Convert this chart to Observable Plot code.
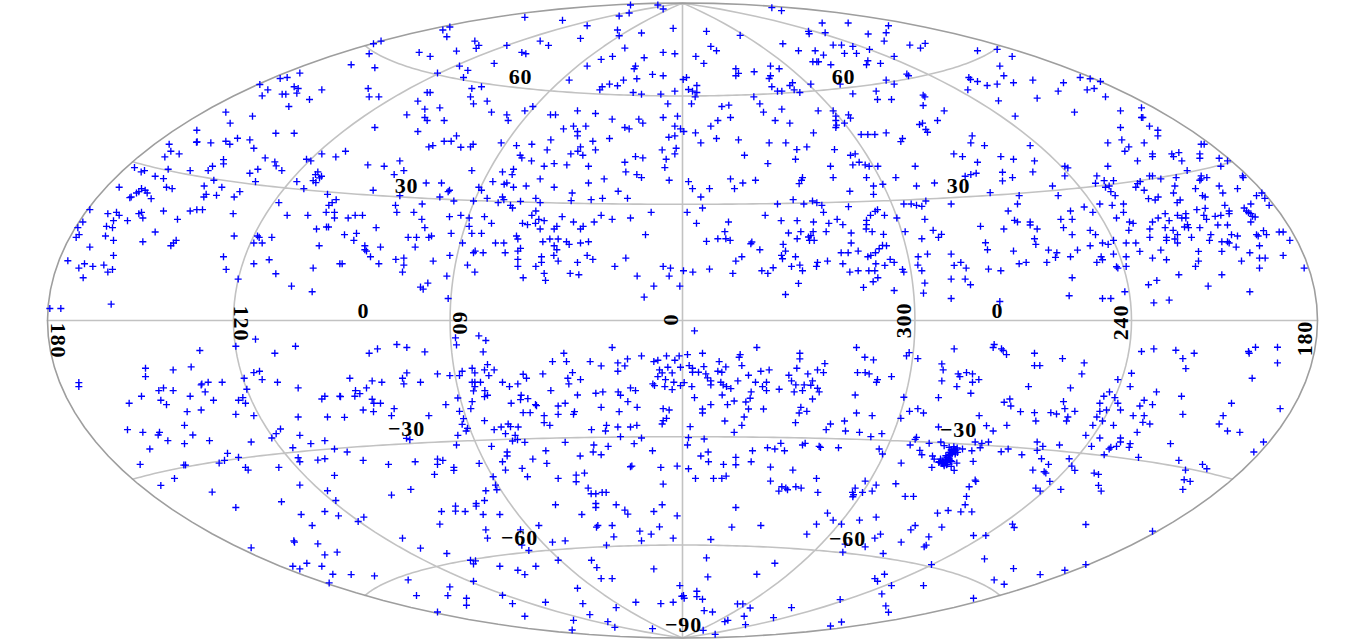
<!DOCTYPE html>
<html>
<head>
<meta charset="utf-8">
<style>html,body{margin:0;padding:0;background:#fff}svg{display:block}</style>
<script src="https://cdn.jsdelivr.net/npm/d3@7"></script>
<script src="https://cdn.jsdelivr.net/npm/@observablehq/plot@0.6"></script>
</head>
<body>
<div id="chart"></div>
<script>
// Sky positions, as x,y pairs in map-plane units per sector.
// Half-width of the map = 1905 units, half-height = 951 units.
const northFarLeft = [898,219,860,232,839,235,778,253,802,269,881,260,893,265,889,279,964,269,785,287,845,282,856,282,927,298,865,319,676,336,756,348,689,369,589,390,826,399,881,399,506,432,590,425,588,426,631,428,676,423,688,432,711,414,748,419,760,444,511,453,536,461,493,470,964,461,1006,470,794,473,669,478,669,491,918,477,931,482,823,485,827,497,636,498,402,502,503,507,569,511,623,511,432,511,422,515,844,511,772,507,748,519,464,528,489,535,640,540,765,544,889,544,952,515,945,523,963,528,957,533,938,541,946,547,611,557,664,561,498,561,515,565,356,561,423,565,415,574,434,570,910,565,440,578,718,574,408,578,981,582,617,582,648,585,610,590,701,590,392,590,388,592,452,595,1007,598,995,607,985,615,835,607,268,628,489,632,569,632,589,628,606,628,322,640,348,636,356,645,415,640,423,636,698,640,860,645,922,645,977,636,1002,636,1002,653,427,653,531,657,247,665,339,661,381,661,318,678,336,682,232,682,948,686,978,680,984,680,464,695,236,703,227,711,315,707,701,707,771,707,776,711,814,711,339,720,427,724,527,720,519,728,511,736,760,728,785,728,268,740,956,736,339,765,669,769,202,781,806,778,252,790,235,803,277,798,310,794,336,807,322,815,677,807,760,790,938,803,1018,790,826,820,248,832,713,836,873,857,935,874,148,924,181,924,332,911];
const northNearLeft = [870,15,952,15,968,27,866,39,836,48,553,52,666,61,740,77,328,81,307,90,319,110,998,85,831,90,836,107,903,99,720,115,115,123,99,131,403,123,599,123,624,136,499,136,415,136,407,145,853,144,236,157,269,169,348,153,544,157,556,161,86,161,968,157,1003,161,816,169,782,178,911,173,461,190,32,194,103,203,885,198,740,198,357,198,382,211,291,219,369,232,881,206,936,223,968,227,889,236,686,240,849,240,807,252,831,257,785,260,778,269,394,265,423,260,83,265,260,277,269,277,878,277,903,282,961,282,1003,273,86,290,115,290,390,290,232,303,440,303,399,311,982,311,253,327,298,323,553,332,577,319,453,336,199,344,499,344,630,344,645,344,711,332,765,340,253,352,260,361,311,361,503,361,815,357,968,352,1011,348,895,357,907,369,669,386,699,378,736,378,853,382,866,386,1003,378,1020,386,103,382,232,394,711,394,711,407,1003,407,985,411,807,415,348,407,311,423,332,423,482,428,631,419,757,423,574,432,528,436,398,432,390,440,265,440,277,436,361,441,15,453,620,449,765,449,965,449,1007,444,720,440,712,453,691,461,727,465,1003,461,539,465,544,473,573,482,178,482,82,494,131,498,611,498,641,490,679,494,744,498,853,486,885,469,907,473,977,477,973,502,394,511,190,511,161,523,486,515,519,507,515,523,856,515,889,523,903,532,986,540,599,536,791,536,457,544,257,548,303,548,499,548,491,552,519,561,557,557,744,548,641,561,415,561,98,570,423,570,327,570,323,574,833,573,695,578,178,586,298,590,486,590,440,594,586,594,692,601,752,598,786,594,861,594,340,602,399,602,473,607,490,598,599,607,540,603,245,611,510,615,165,615,516,623,932,636,586,632,574,645,169,636,220,636,23,653,44,645,66,645,327,649,361,645,386,653,432,649,665,649,782,645,815,657,870,653,244,657,453,669,595,657,611,661,585,669,546,669,561,673,699,665,761,665,253,682,107,682,386,678,649,678,641,686,728,678,720,686,599,686,48,699,12,703,332,699,394,699,423,699,915,703,203,711,228,711,265,711,273,707,528,707,532,716,40,720,607,724,628,716,653,716,465,728,490,728,366,728,678,724,720,728,744,724,686,732,641,736,73,736,120,740,224,740,73,748,78,752,649,748,540,744,532,752,404,752,399,757,428,757,494,757,90,769,640,765,740,765,757,777,856,773,603,769,166,777,190,773,278,782,328,765,532,777,653,782,603,786,711,786,115,790,190,794,5,790,381,794,532,798,586,798,823,798,968,798,990,803,186,815,403,815,611,819,689,819,715,823,986,827,319,827,548,832,890,827,615,840,262,848,240,860,248,866,940,857,1018,857,911,890,323,894];
const northNearRight = [268,23,297,32,419,69,497,69,618,77,72,94,173,106,378,94,380,101,428,98,557,102,611,98,605,123,301,131,682,135,728,130,714,144,85,139,102,152,348,152,398,152,452,135,477,135,511,139,561,148,486,160,522,160,423,165,885,152,944,148,40,169,64,190,391,185,403,185,408,185,445,194,635,169,556,182,552,194,594,190,989,169,952,198,160,206,264,198,290,206,215,215,160,227,168,220,264,227,260,235,12,232,2,238,964,227,859,232,864,238,885,244,993,248,330,248,385,252,322,256,611,240,635,252,673,222,678,227,914,256,944,252,43,256,18,268,30,273,43,277,268,260,285,273,298,273,335,269,352,277,473,252,856,269,581,273,511,281,214,290,38,290,722,285,727,290,585,298,627,298,948,302,27,311,232,311,722,316,118,319,139,315,243,336,298,327,407,332,785,332,452,332,460,348,498,344,504,354,998,348,144,352,106,361,278,361,460,361,765,361,85,378,322,369,486,369,462,375,460,382,720,369,711,373,730,388,735,396,4,394,39,398,393,398,536,403,556,403,577,403,611,398,55,428,102,415,168,419,260,428,310,428,660,415,655,424,869,407,865,428,906,436,343,448,373,440,456,448,186,465,504,465,518,461,256,490,339,477,530,486,814,461,840,469,955,469,993,477,885,486,444,498,511,494,548,494,560,498,586,498,698,498,960,516,452,532,552,532,640,532,360,532,357,540,848,528,865,523,881,519,960,542,990,532,18,544,144,536,219,540,181,548,350,550,573,557,601,552,702,557,756,548,30,565,81,565,156,565,502,573,573,582,55,590,923,577,332,598,285,611,364,611,390,602,403,607,418,615,498,619,664,611,686,611,702,615,718,618,730,602,806,611,1010,586,1005,611,60,623,14,636,423,636,585,628,578,633,977,632,248,645,564,645,606,645,643,653,727,657,296,661,344,661,393,665,439,669,464,657,481,673,552,660,138,665,42,669,552,673,996,660,1005,665,894,678,964,686,551,686,127,694,318,698,355,694,392,694,431,694,506,698,569,694,603,702,668,694,752,690,777,702,768,711,106,715,130,715,143,720,72,723,344,715,378,710,385,706,381,720,395,720,718,715,208,725,205,730,506,728,909,727,302,732,309,752,915,748,993,752,232,748,600,735,612,736,590,745,527,752,476,757,497,757,579,757,735,761,806,761,297,765,300,775,160,782,178,769,339,769,556,769,565,765,435,782,405,786,707,769,623,777,1010,790,835,786,815,795,481,790,352,794,327,798,402,798,580,790,607,795,635,786,706,794,851,803,3,811,31,815,81,806,238,811,272,802,256,819,151,819,360,811,502,815,527,811,559,811,577,811,660,807,664,815,718,811,918,806,955,811,586,832,572,844,727,848,806,836,848,836,864,853,348,849,543,861,635,870,723,878,309,882,806,894,952,903];
const northFarRight = [31,240,123,248,173,232,203,236,240,244,107,273,194,269,215,265,249,290,44,294,156,336,294,332,357,323,357,352,361,352,294,382,381,378,406,390,406,407,298,419,256,428,365,428,536,432,545,432,23,436,319,440,307,453,390,461,390,469,448,461,469,457,453,469,532,461,532,474,590,474,36,482,345,482,478,482,615,482,127,498,136,503,256,498,595,498,31,515,494,511,127,527,223,527,381,527,390,527,415,536,461,532,536,527,553,532,536,536,532,540,660,527,662,532,245,541,273,541,219,549,90,557,353,544,345,550,340,561,457,557,590,557,249,561,260,557,519,565,645,565,365,570,453,578,265,574,601,578,107,586,278,586,378,595,398,599,407,590,540,586,548,590,473,599,464,607,232,611,269,615,303,611,607,615,685,611,702,586,718,578,727,594,740,615,185,620,523,628,548,624,665,623,144,632,211,636,303,636,620,632,620,640,428,640,672,632,678,637,490,640,465,645,478,653,490,653,544,645,595,645,578,648,685,640,690,648,698,650,282,653,407,653,115,657,149,657,23,665,23,674,321,665,332,669,440,661,390,665,552,657,685,665,495,673,486,680,498,682,586,674,615,674,532,682,44,686,123,682,382,686,428,682,452,690,203,690,319,690,770,695,782,695,723,691,149,703,219,703,465,703,565,703,627,703,645,707,702,703,707,707,732,703,36,715,382,711,432,711,432,720,457,716,507,711,561,720,273,720,802,720,40,732,240,728,257,732,311,728,340,728,465,728,598,724,615,724,620,728,203,736,711,736,641,740,78,749,165,749,103,757,99,771,352,753,415,749,528,753,598,753,682,757,144,769,273,761,236,769,240,778,311,769,390,773,432,778,528,782,711,773,728,773,782,765,11,786,73,786,223,786,657,782,282,799,286,803,311,798,519,798,711,803,845,803,149,832,469,823,598,823,403,840,378,853,557,857,140,886,307,874,682,874,240,894,265,894,394,907,440,899];
const southFarLeft = [765,56,706,77,885,77,598,90,823,98,572,139,435,143,518,148,760,156,777,152,435,168,731,173,785,177,235,186,235,198,623,185,665,185,831,185,602,193,604,190,489,202,475,210,518,210,614,214,739,206,893,202,423,227,569,227,727,231,973,227,964,235,1018,227,481,239,639,239,714,239,386,248,498,252,735,248,560,273,602,268,706,281,760,285,893,289,981,289,552,314,381,327,427,335,477,335,473,343,840,325,827,339,577,343,898,344,814,352,502,360,627,360,752,364,552,369,973,360,931,369,448,385,877,381,1002,385,681,398,714,410,893,411,898,423,952,418,973,414,672,419,656,427,419,431,550,433,555,433,735,440,743,448,835,440,522,473,481,494,898,493,1002,464,981,510,635,514,1006,539,843,543,706,560,902,581,973,572,1014,585,935,614,880,660,882,664,952,669,752,681,973,702,1010,694,877,736,898,744,919,727,964,736,997,760,986,786];
const southNearLeft = [345,52,415,46,436,60,348,73,815,81,111,85,169,72,199,81,86,98,253,94,428,94,670,98,903,106,636,123,678,123,749,123,861,115,832,127,782,136,853,136,940,123,952,119,978,106,1016,106,1003,119,441,132,395,143,432,148,461,148,365,152,832,152,982,140,957,148,1020,140,696,156,199,157,291,160,328,165,357,165,403,157,445,165,607,160,548,161,965,157,995,157,952,168,28,173,186,173,558,173,682,173,720,177,975,177,95,181,124,185,190,190,240,185,395,185,403,185,420,185,486,185,532,190,685,190,937,190,942,195,973,198,1000,185,1020,195,995,207,78,202,507,198,403,198,399,211,631,210,870,202,885,210,45,210,58,219,43,227,433,210,432,228,441,224,833,214,787,214,766,218,711,223,0,228,352,232,542,224,540,237,562,234,840,224,95,236,100,248,120,248,395,243,316,252,512,248,585,252,588,255,653,256,674,248,862,243,782,260,890,260,161,264,68,268,99,273,391,264,357,272,548,276,569,276,702,273,699,281,836,273,653,281,611,285,968,264,986,268,265,285,153,285,12,290,369,294,432,300,978,293,968,300,965,310,611,306,628,314,365,311,503,310,482,319,461,327,510,318,533,319,753,327,798,314,832,319,870,319,889,314,795,331,381,323,377,331,495,339,524,344,352,344,840,348,903,352,198,353,208,357,516,361,531,357,553,365,674,365,760,373,348,373,453,377,881,369,803,377,616,390,758,394,936,390,782,402,500,394,500,406,20,394,719,406,577,415,68,419,224,423,144,431,291,415,307,419,291,431,416,428,486,423,619,428,340,440,340,449,545,443,495,448,874,436,870,438,961,440,1010,436,282,461,458,468,561,468,732,457,707,463,653,473,707,483,465,493,436,510,469,507,211,506,153,523,743,502,968,490,752,519,766,519,785,515,797,515,432,539,407,548,345,556,345,571,407,556,303,572,374,572,645,552,766,548,766,560,827,552,965,552,853,568,862,580,940,572,428,581,478,581,724,581,1010,585,70,589,53,602,298,610,595,614,772,614,768,619,815,614,957,618,436,627,898,631,932,640,186,652,441,652,540,627,820,648,903,660,998,652,636,664,674,660,544,673,798,673,240,682,565,689,319,698,390,718,405,720,399,729,653,718,753,718,478,736,586,736,532,748,769,740,553,761,940,744,32,761,102,765,203,777,782,773,815,773,399,781,328,798,711,802,1018,794,322,824,228,824,486,823,378,832,1024,826,378,853,615,844,727,848,516,848,886,844,961,848,998,844,827,860,291,873,748,881,553,886,699,898,802,902,823,919,936,923,695,927];
const southNearRight = [36,31,223,81,522,81,815,85,935,72,932,81,957,85,962,90,972,102,15,102,60,98,352,98,352,115,173,102,170,110,547,110,573,118,680,96,672,106,706,114,110,123,427,129,20,135,30,143,64,138,130,139,178,135,343,143,778,130,782,148,30,155,48,155,70,160,106,152,118,155,198,164,235,152,260,148,319,164,376,160,405,148,423,156,525,156,548,156,560,160,627,168,827,160,852,156,870,160,832,168,75,172,85,181,5,186,115,185,166,181,219,185,327,181,390,181,585,177,582,185,778,181,870,185,889,177,28,198,85,193,122,193,132,198,145,204,240,198,252,185,290,206,340,193,365,193,385,194,405,203,823,198,252,210,206,214,335,214,360,210,410,214,865,218,119,223,518,223,664,230,768,231,203,233,36,231,390,235,190,244,155,241,85,252,135,252,965,245,982,235,985,256,1014,273,60,265,60,277,198,265,243,265,355,260,350,277,373,272,522,277,681,272,706,264,723,277,185,289,569,285,890,285,655,293,127,301,339,306,486,301,178,314,444,310,23,318,431,327,489,331,531,335,155,335,768,319,912,315,932,331,973,314,598,339,565,348,702,350,698,356,18,351,65,355,295,368,368,368,360,373,15,373,255,381,277,385,306,390,410,377,414,380,468,381,878,364,898,368,918,364,683,373,740,368,775,364,893,381,210,390,77,394,590,385,600,400,712,389,718,402,785,375,800,380,815,390,825,395,840,385,868,390,800,395,956,393,977,385,1018,402,55,406,160,410,750,406,755,415,790,405,805,400,810,395,818,400,872,422,78,423,160,432,206,423,123,431,656,427,770,423,780,428,790,425,800,415,785,435,795,430,808,422,823,427,748,440,806,437,815,449,18,444,264,439,331,448,39,473,93,473,118,473,131,466,402,473,878,478,880,482,264,481,548,481,581,493,640,489,860,498,340,498,356,502,298,498,310,502,289,511,315,507,518,502,406,515,510,515,513,522,540,515,569,511,511,528,668,527,693,527,852,527,160,560,848,552,435,577,765,577,797,569,835,573,868,573,581,589,452,598,531,598,402,610,477,610,698,614,685,627,778,619,990,610,995,620,148,619,235,614,373,640,594,640,873,644,910,644,85,656,577,652,739,648,656,664,488,670,548,678,725,678,731,673,481,694,602,698,72,711,906,714,277,727,747,731,223,760,76,768,993,743,606,760,577,773,585,781,935,777,627,794,723,794,965,790,598,819,43,811,43,827,3,824,5,832,60,835,473,836,873,832,165,849,181,849,203,861,610,855,618,874,65,869,90,873,327,860,185,886,273,890,127,902,136,898,477,903,189,911,444,915,62,928,98,940];
const southCluster = [814,385,804,395,819,395,799,405,809,400,824,382,789,415,779,420,769,425,784,430,774,415,794,425,804,420,814,378,812,392,820,388,806,388,802,402,793,410,783,424,776,428,788,418,798,412,792,432];
const southFarRight = [36,98,120,114,185,127,36,135,52,135,357,93,394,85,460,89,481,114,515,98,678,93,680,98,699,80,765,80,765,127,490,144,178,160,327,158,689,173,286,177,18,198,144,202,323,198,402,214,261,214,244,227,277,231,477,227,123,243,365,239,232,248,286,248,390,252,352,256,627,248,127,264,252,268,294,268,157,272,232,272,36,276,85,276,102,280,773,264,481,281,332,285,365,285,602,285,223,289,136,289,132,301,40,301,240,301,361,305,382,310,590,310,211,314,273,314,615,331,344,335,652,335,190,344,232,352,294,352,44,364,294,364,323,369,444,369,111,373,207,377,61,377,282,377,320,380,265,380,260,385,723,364,44,389,694,394,245,402,348,410,469,419,57,414,140,414,78,431,540,431,148,436,553,444,31,448,157,449,489,448,65,453,70,457,215,457,228,461,485,477,503,482,82,482,228,494,40,502,53,511,115,506,236,511,481,506,190,611,390,631,190,731,127,748,53,761];

// Where each sector starts on the map plane.
const sectors = [
  {pairs: northFarLeft,   x0: -2046, y0: 960},
  {pairs: northNearLeft,  x0: -1026, y0: 960},
  {pairs: northNearRight, x0: 0,     y0: 960},
  {pairs: northFarRight,  x0: 1020,  y0: 960},
  {pairs: southFarLeft,   x0: -2046, y0: 0},
  {pairs: southNearLeft,  x0: -1026, y0: 0},
  {pairs: southNearRight, x0: 0,     y0: 0},
  {pairs: southCluster,   x0: 0,     y0: 0},
  {pairs: southFarRight,  x0: 1020,  y0: 0}
];

// Grid
const meridianLons = [0, 60, 120, 240, 300];
const parallelLats = [-60, -30, 0, 30, 60];

// Labels
const labelTexts  = ["0","0","30","30","60","60","−30","−30","−60","−60","−90","180","120","60","0","300","240","180"];
const labelPlaneX = [-957,945,-828,828,-486,483,-828,828,-489,495,3,-1872,-1323,-666,-33,663,1314,1866];
const labelPlaneY = [30,30,402,402,729,729,-324,-327,-651,-654,-912,-60,-9,-9,0,0,-6,-54];
const labelRotate = [0,0,0,0,0,0,0,0,0,0,0,90,90,90,90,-90,-90,-90];

// Hammer projection, plane coordinates <-> longitude/latitude
const HALF_W = 1905, HALF_H = 951;
function hammerRaw(l, p) {
  const c = Math.cos(p), d = Math.sqrt(1 + c * Math.cos(l / 2));
  return [2 * Math.SQRT2 * c * Math.sin(l / 2) / d, Math.SQRT2 * Math.sin(p) / d];
}
function planeToSky(X, Y) {
  const x = X / HALF_W * 2 * Math.SQRT2, y = Y / HALF_H * Math.SQRT2;
  const z = Math.sqrt(Math.max(0.5, 1 - x * x / 16 - y * y / 4));
  const l = 2 * Math.atan2(z * x, 2 * (2 * z * z - 1));
  const p = Math.asin(Math.max(-1, Math.min(1, z * y)));
  // longitude grows to the left on this map, 0 to 360
  return {lon: (360 - l * 180 / Math.PI) % 360, lat: p * 180 / Math.PI};
}

const points = sectors.flatMap(({pairs, x0, y0}) => {
  const out = [];
  for (let i = 0; i < pairs.length; i += 2) out.push(planeToSky(pairs[i] + x0, y0 - pairs[i + 1]));
  return out;
});

const labels = labelTexts.map((text, i) => ({
  text, rotate: labelRotate[i], ...planeToSky(labelPlaneX[i], labelPlaneY[i])
}));

const lats = d3.range(-90, 90.5, 2), lons = d3.range(-180, 180.5, 2);
const grid = {
  type: "MultiLineString",
  coordinates: [
    ...meridianLons.map(m => lats.map(t => [m, t])),
    ...parallelLats.map(t => lons.map(m => [m, t]))
  ]
};

const projection = d3.geoProjection(hammerRaw)
  .reflectX(true)
  .scale(635 / (2 * Math.SQRT2))
  .translate([682, 320])
  .precision(0.2);

const plot = Plot.plot({
  width: 1364,
  height: 641,
  margin: 0,
  projection,
  style: {background: "#fff", letterSpacing: "0.8px"},
  marks: [
    Plot.geo(grid, {stroke: "#c2c2c2", strokeWidth: 1.6}),
    Plot.sphere({stroke: "#9e9e9e", strokeWidth: 1.6}),
    Plot.dot(points, {x: "lon", y: "lat", symbol: "plus", r: 2.4, stroke: "#0000ff", strokeWidth: 1.35}),
    Plot.text(labels, {
      x: "lon", y: "lat", text: "text", rotate: "rotate",
      fontFamily: "Liberation Serif", fontWeight: "bold", fontSize: 22,
      fill: "#000", textAnchor: "middle", lineAnchor: "middle"
    })
  ]
});
document.getElementById("chart").appendChild(plot);
</script>
</body>
</html>
